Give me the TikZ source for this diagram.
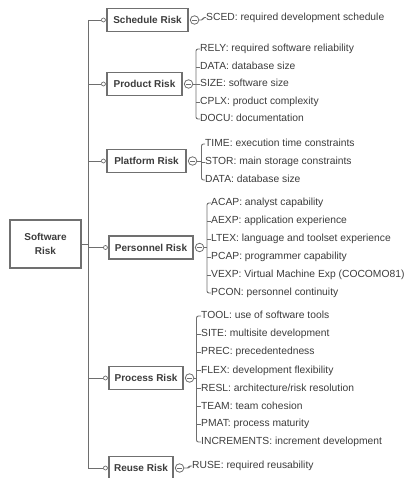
\documentclass[tikz,border=0pt]{standalone}
\usepackage{fontspec}
\setmainfont{Liberation Sans}
\definecolor{linec}{HTML}{6E6E6E}
\definecolor{boxc}{HTML}{707070}
\definecolor{txtc}{HTML}{3C3C3C}
\begin{document}
\begin{tikzpicture}[x=1pt,y=-1pt,
  line/.style={draw=linec,line width=0.9pt},
  cat/.style={draw=boxc,line width=1.1pt,fill=white,font=\fontsize{10}{12}\selectfont\bfseries,text=txtc,minimum height=23pt,inner sep=0pt},
  leaf/.style={anchor=west,inner sep=0pt,font=\fontsize{10.3}{12}\selectfont,text=txtc,text height=7.5pt,text depth=2pt},
  knob/.style={circle,draw=linec,fill=white,line width=0.7pt,minimum size=4pt,inner sep=0pt},
  minus/.style={circle,draw=linec,fill=white,line width=0.8pt,minimum size=8.5pt,inner sep=0pt,
    path picture={\draw[linec,line width=0.8pt] ([xshift=-2.2pt]path picture bounding box.center) -- ([xshift=2.2pt]path picture bounding box.center);}},
]
\useasboundingbox (0,0) rectangle (408,478);

% root
\node[draw=boxc,line width=1.1pt,minimum width=71pt,minimum height=48pt,align=center,
  font=\fontsize{10}{14}\selectfont\bfseries,text=txtc] (sw) at (45.5,244) {Software\\Risk};

% trunk
\coordinate (ttop) at (88,20);
\coordinate (tbot) at (88,468);
\draw[line] (ttop) -- (tbot);
\draw[line] (sw.east) -- (sw.east -| ttop);

% categories
\node[cat,minimum width=81pt] (cS) at (147.5,20) {Schedule Risk};
\node[cat,minimum width=75pt] (cP) at (144.5,84) {Product Risk};
\node[cat,minimum width=79pt] (cF) at (146.5,161) {Platform Risk};
\node[cat,minimum width=84pt] (cN) at (151,247.5) {Personnel Risk};
\node[cat,minimum width=74pt] (cR) at (146,378) {Process Risk};
\node[cat,minimum width=64pt] (cU) at (141,468) {Reuse Risk};

\foreach \c in {S,P,F,N,R,U}{
  \node[knob] (k\c) at ([xshift=-3pt]c\c.west) {};
  \draw[line] (k\c -| ttop) -- (k\c.west);
  \node[minus] (m\c) at ([xshift=6pt]c\c.east) {};
}

% Schedule leaf
\node[leaf] (s1) at (206,17.5) {SCED: required development schedule};
\draw[line,rounded corners=1.5pt] (mS.east) -- ([xshift=-3pt]mS.east -| s1.west) -- ([xshift=-3pt]s1.west) -- (s1.west);

% Product leaves
\node[leaf] (p1) at (200,49) {RELY: required software reliability};
\node[leaf] (p2) at (200,67) {DATA: database size};
\node[leaf] (p3) at (200,84) {SIZE: software size};
\node[leaf] (p4) at (200,102) {CPLX: product complexity};
\node[leaf] (p5) at (200,119) {DOCU: documentation};
\coordinate (bP) at (196,84);
\draw[line] (mP.east) -- (mP.east -| bP);
\draw[line,rounded corners=2pt] (p1.west) -- (p1.west -| bP) -- (p5.west -| bP) -- (p5.west);
\foreach \i in {2,3,4}{\draw[line] (p\i.west -| bP) -- (p\i.west);}

% Platform leaves
\node[leaf] (f1) at (205,144) {TIME: execution time constraints};
\node[leaf] (f2) at (205,162) {STOR: main storage constraints};
\node[leaf] (f3) at (205,180) {DATA: database size};
\coordinate (bF) at (201.5,161);
\draw[line] (mF.east) -- (mF.east -| bF);
\draw[line,rounded corners=2pt] (f1.west) -- (f1.west -| bF) -- (f3.west -| bF) -- (f3.west);
\draw[line] (f2.west -| bF) -- (f2.west);

% Personnel leaves
\node[leaf] (n1) at (211,203) {ACAP: analyst capability};
\node[leaf] (n2) at (211,221) {AEXP: application experience};
\node[leaf] (n3) at (211,239) {LTEX: language and toolset experience};
\node[leaf] (n4) at (211,257) {PCAP: programmer capability};
\node[leaf] (n5) at (211,275) {VEXP: Virtual Machine Exp (COCOMO81)};
\node[leaf] (n6) at (211,293) {PCON: personnel continuity};
\coordinate (bN) at (207,247.5);
\draw[line] (mN.east) -- (mN.east -| bN);
\draw[line,rounded corners=2pt] (n1.west) -- (n1.west -| bN) -- (n6.west -| bN) -- (n6.west);
\foreach \i in {2,3,4,5}{\draw[line] (n\i.west -| bN) -- (n\i.west);}

% Process leaves
\node[leaf] (r1) at (201,316) {TOOL: use of software tools};
\node[leaf] (r2) at (201,334) {SITE: multisite development};
\node[leaf] (r3) at (201,352) {PREC: precedentedness};
\node[leaf] (r4) at (201,370.5) {FLEX: development flexibility};
\node[leaf] (r5) at (201,388.5) {RESL: architecture/risk resolution};
\node[leaf] (r6) at (201,406.5) {TEAM: team cohesion};
\node[leaf] (r7) at (201,424) {PMAT: process maturity};
\node[leaf] (r8) at (201,442) {INCREMENTS: increment development};
\coordinate (bR) at (196.5,378);
\draw[line] (mR.east) -- (mR.east -| bR);
\draw[line,rounded corners=2pt] (r1.west) -- (r1.west -| bR) -- (r8.west -| bR) -- (r8.west);
\foreach \i in {2,3,4,5,6,7}{\draw[line] (r\i.west -| bR) -- (r\i.west);}

% Reuse leaf
\node[leaf] (u1) at (192,466) {RUSE: required reusability};
\draw[line,rounded corners=1.5pt] (mU.east) -- ([xshift=-3pt]mU.east -| u1.west) -- ([xshift=-3pt]u1.west) -- (u1.west);
\end{tikzpicture}
\end{document}
